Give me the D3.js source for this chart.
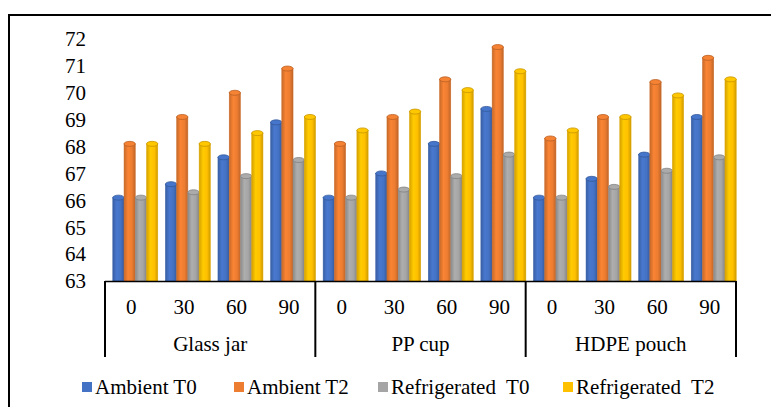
<!DOCTYPE html>
<html><head><meta charset="utf-8">
<script src="https://cdn.jsdelivr.net/npm/d3@7"></script>
<style>body{margin:0;background:#fff}svg{display:block}</style>
</head><body><svg id="c" width="771" height="407" font-family="'Liberation Serif', 'DejaVu Serif', serif"></svg>
<script>
const groups = ["Glass jar", "PP cup", "HDPE pouch"];
const days = ["0", "30", "60", "90"];
const series = ["Ambient T0", "Ambient T2", "Refrigerated  T0", "Refrigerated  T2"];
const colors = ["#4472C4", "#ED7D31", "#A5A5A5", "#FFC000"];
const ambientT0 = [66.1, 66.6, 67.6, 68.9, 66.1, 67.0, 68.1, 69.4, 66.1, 66.8, 67.7, 69.1];
const ambientT2 = [68.1, 69.1, 70.0, 70.9, 68.1, 69.1, 70.5, 71.7, 68.3, 69.1, 70.4, 71.3];
const refrigT0 = [66.1, 66.3, 66.9, 67.5, 66.1, 66.4, 66.9, 67.7, 66.1, 66.5, 67.1, 67.6];
const refrigT2 = [68.1, 68.1, 68.5, 69.1, 68.6, 69.3, 70.1, 70.8, 68.6, 69.1, 69.9, 70.5];
const yTicks = [63, 64, 65, 66, 67, 68, 69, 70, 71, 72];
const seriesVals = [ambientT0, ambientT2, refrigT0, refrigT2];

(function () {
const svg = d3.select("#c");
const FONT = "'Liberation Serif', 'DejaVu Serif', serif";
const pLeft = 105, pRight = 736, pBase = 281, pTop = 39;
const cats = [];
groups.forEach(g => days.forEach(d => cats.push(g + "|" + d)));

const y = d3.scaleLinear().domain([63, 72]).range([pBase, pTop]);
const x0 = d3.scaleBand().domain(cats).range([pLeft, pRight]).paddingInner(0.144).paddingOuter(0.072);
const x1 = d3.scaleBand().domain(series).range([0, x0.bandwidth()]);
const gx = d3.scaleBand().domain(groups).range([pLeft, pRight]);
const depth = 4;

// outer border
svg.append("rect").attr("x", 9).attr("y", 15).attr("width", 800).attr("height", 420)
  .attr("fill", "none").attr("stroke", "#000").attr("stroke-width", 2);

// gradients
const defs = svg.append("defs");
colors.forEach((c, i) => {
  const g = defs.append("linearGradient").attr("id", "g" + i).attr("x1", "0").attr("x2", "1").attr("y1", "0").attr("y2", "0");
  const bc = d3.color(c);
  g.append("stop").attr("offset", "0%").attr("stop-color", bc.darker(0.5));
  g.append("stop").attr("offset", "35%").attr("stop-color", bc.brighter(0.15));
  g.append("stop").attr("offset", "70%").attr("stop-color", bc);
  g.append("stop").attr("offset", "100%").attr("stop-color", bc.darker(0.6));
});

// bars (cylinders)
const ry = 2.5;
series.forEach((s, si) => {
  const vals = seriesVals[si];
  const gEl = svg.append("g");
  cats.forEach((c, ci) => {
    const bx = x0(c) + depth + x1(s);
    const bw = x1.bandwidth();
    const yt = y(vals[ci]);
    gEl.append("rect").attr("x", bx).attr("y", yt).attr("width", bw).attr("height", pBase - yt)
      .attr("fill", `url(#g${si})`).attr("stroke", d3.color(colors[si]).darker(0.4)).attr("stroke-width", 0.5);
    gEl.append("ellipse").attr("cx", bx + bw / 2).attr("cy", yt).attr("rx", bw / 2).attr("ry", ry)
      .attr("fill", d3.color(colors[si]).brighter(0.1)).attr("stroke", d3.color(colors[si]).darker(0.7)).attr("stroke-width", 0.8);
  });
});

const txt = sel => sel.attr("font-family", FONT).attr("font-size", 21).attr("fill", "#000");

// y tick labels
svg.append("g").selectAll("text").data(yTicks).join("text")
  .attr("x", 86).attr("y", d => y(d)).attr("dy", "0.35em").attr("text-anchor", "end")
  .call(txt).text(d => d);

// x axis line
svg.append("line").attr("x1", pLeft).attr("x2", pRight).attr("y1", pBase + 0.5).attr("y2", pBase + 0.5)
  .attr("stroke", "#000").attr("stroke-width", 1.5);
// group separators
const seps = groups.map(g => gx(g)).concat([pRight]);
svg.append("g").selectAll("line").data(seps).join("line")
  .attr("x1", d => d).attr("x2", d => d).attr("y1", pBase).attr("y2", 357)
  .attr("stroke", "#000").attr("stroke-width", 2);

// category labels
svg.append("g").selectAll("text").data(cats).join("text")
  .attr("x", d => x0(d) + x0.bandwidth() / 2).attr("y", 307).attr("dy", "0.35em").attr("text-anchor", "middle")
  .call(txt).text(d => d.split("|")[1]);
// group labels
svg.append("g").selectAll("text").data(groups).join("text")
  .attr("x", d => gx(d) + gx.bandwidth() / 2).attr("y", 344).attr("dy", "0.35em").attr("text-anchor", "middle")
  .call(txt).text(d => d);

// legend
const legX = [82, 234, 378, 563];
const lg = svg.append("g");
series.forEach((s, i) => {
  lg.append("rect").attr("x", legX[i]).attr("y", 382).attr("width", 10).attr("height", 10).attr("fill", colors[i]);
  lg.append("text").attr("x", legX[i] + 13).attr("y", 387).attr("dy", "0.35em")
    .call(txt).style("white-space", "pre").text(s);
});
})();
</script></body></html>
